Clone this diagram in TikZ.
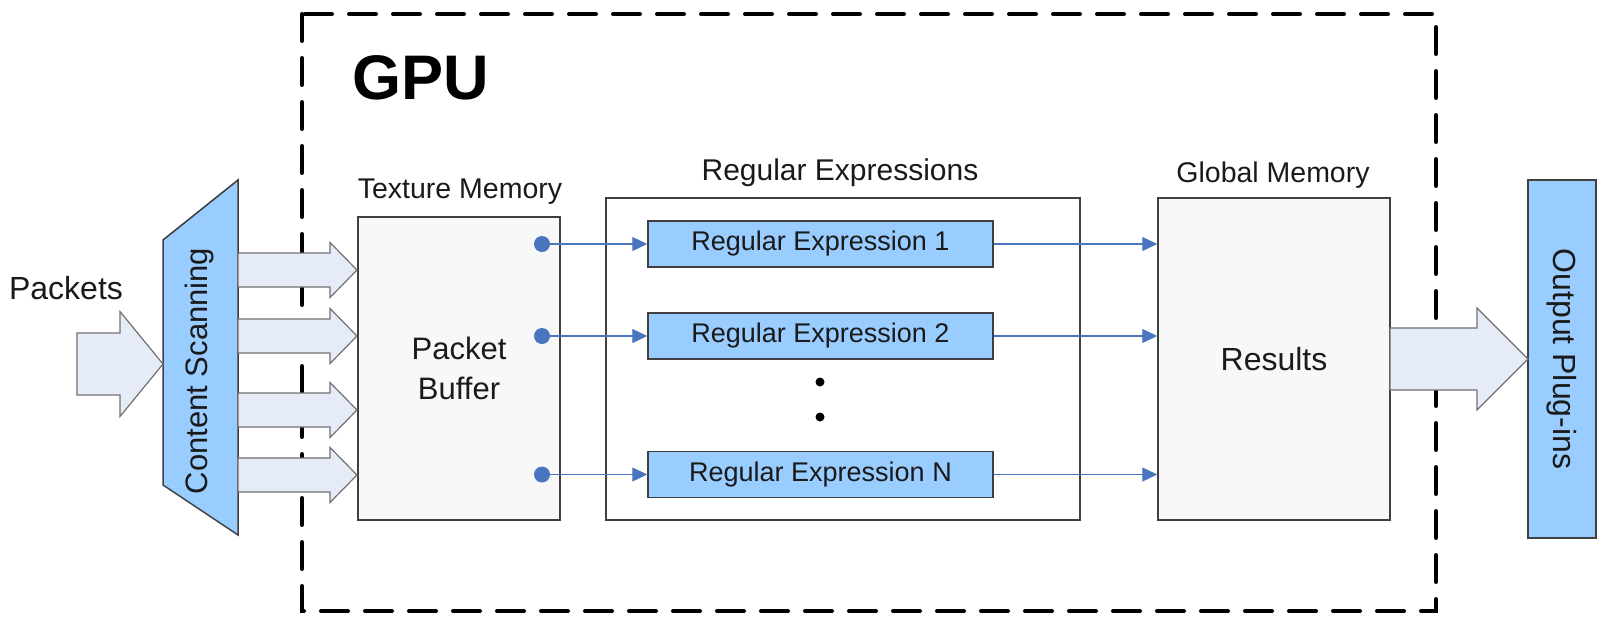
\documentclass[tikz,border=0pt]{standalone}
\usepackage{fontspec}
\setmainfont{Liberation Sans}
\usetikzlibrary{arrows.meta}
\definecolor{boxblue}{HTML}{99CCFF}
\definecolor{lineblue}{HTML}{4A76C0}
\definecolor{arrfill}{HTML}{E6ECF7}
\definecolor{boxgray}{HTML}{F8F8F8}
\definecolor{edgegray}{HTML}{404040}
\definecolor{arredge}{HTML}{707070}
\definecolor{txt}{HTML}{1A1A1A}
\newcommand{\blockarr}[6]{%
  \draw[blk] (#1,{#3-#4}) -- ({#2-#6},{#3-#4}) -- ({#2-#6},{#3-#5}) -- (#2,#3)
    -- ({#2-#6},{#3+#5}) -- ({#2-#6},{#3+#4}) -- (#1,{#3+#4}) -- cycle;}
\begin{document}
\begin{tikzpicture}[x=1pt,y=-1pt,
  every node/.style={text=txt},
  box/.style={draw=edgegray, line width=1.5pt, inner sep=0pt},
  rebox/.style={box, fill=boxblue, minimum width=345pt, minimum height=46pt,
    font=\fontsize{27}{30}\selectfont},
  lab/.style={font=\fontsize{28.5}{32}\selectfont},
  blk/.style={draw=arredge, line width=1.2pt, fill=arrfill, line join=miter},
  conn/.style={draw=lineblue, line width=1.3pt, -{Triangle[length=15pt,width=14pt]}},
  gpubox/.style={draw=black, line width=4pt, dash pattern=on 27pt off 17pt, line cap=round}]
\useasboundingbox (0,0) rectangle (1597,616);
% GPU dashed boundary
\draw[gpubox] (302,14) rectangle (1436,611);
\node[font=\bfseries\fontsize{63}{63}\selectfont, text=black] (gpu) at (421,78) {GPU};
% Content scanning
\draw[box, fill=boxblue] (163,240) -- (238,180) -- (238,535) -- (163,485) -- cycle;
\node[rotate=90, font=\fontsize{31}{34}\selectfont] (cs) at (199,371) {Content Scanning};
\node[font=\fontsize{32}{36}\selectfont] (pk) at (66,288) {Packets};
% Packet buffer
\node[box, fill=boxgray, minimum width=202pt, minimum height=303pt,
  font=\fontsize{31}{40}\selectfont, align=center] (pb) at (459,368.5) {Packet\\Buffer};
\node[lab] (tm) at (460,192) {Texture Memory};
% Regular expressions
\node[box, fill=white, minimum width=474pt, minimum height=322pt] (re) at (843,359) {};
\node[lab, font=\fontsize{30}{34}\selectfont] (rel) at (840,173) {Regular Expressions};
\node[rebox] (re1) at (820.5,244) {Regular Expression 1};
\node[rebox] (re2) at (820.5,336) {Regular Expression 2};
\node[rebox] (ren) at (820.5,474.5) {Regular Expression N};
\fill[black] (820,382) circle (4.5);
\fill[black] (820,417) circle (4.5);
% Results
\node[box, fill=boxgray, minimum width=232pt, minimum height=322pt,
  font=\fontsize{32}{36}\selectfont] (res) at (1274,359) {Results};
\node[lab] (gm) at (1273,175) {Global Memory};
% Output plug-ins
\node[box, fill=boxblue, rotate=-90, minimum width=358pt, minimum height=68pt,
  font=\fontsize{32}{36}\selectfont] (op) at (1562,359) {Output Plug-ins};
% block arrows
\blockarr{77}{163}{364}{31}{52.5}{43}
\blockarr{238}{357}{270}{17}{27.5}{27}
\blockarr{238}{357}{336}{17}{27.5}{27}
\blockarr{238}{357}{410}{17}{27.5}{27}
\blockarr{238}{357}{475}{17}{27.5}{27}
\blockarr{1390}{1528}{359}{31}{51}{51}
% dots and connectors
\coordinate (d1) at (542,244);
\coordinate (d2) at (542,336);
\coordinate (dn) at (542,474.5);
\foreach \d in {d1,d2,dn} \fill[lineblue] (\d) circle (8);
\draw[conn] (d1) -- (re1.west);
\draw[conn] (d2) -- (re2.west);
\draw[conn] (dn) -- (ren.west);
\draw[conn] (re1.east) -- (re1.east -| res.west);
\draw[conn] (re2.east) -- (re2.east -| res.west);
\draw[conn] (ren.east) -- (ren.east -| res.west);
\end{tikzpicture}
\end{document}
